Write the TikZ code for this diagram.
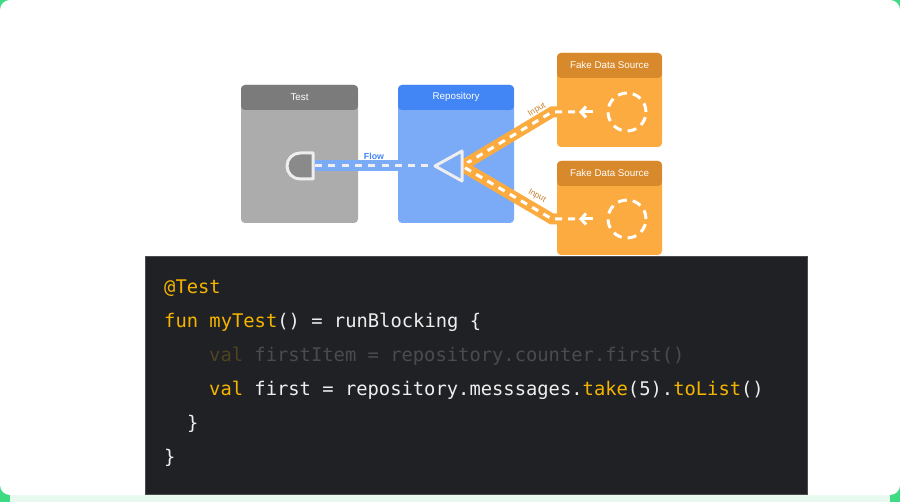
\documentclass[tikz,border=0pt]{standalone}
\usepackage{fontspec}
\setmainfont{Liberation Sans}
\setmonofont{DejaVu Sans Mono}
\usetikzlibrary{arrows.meta, positioning}

\definecolor{edgegreen}{HTML}{3DDC84}
\definecolor{mint}{HTML}{E8FAF0}
\definecolor{testhead}{HTML}{7B7B7B}
\definecolor{testbody}{HTML}{ACACAC}
\definecolor{sinkfill}{HTML}{8A8A8A}
\definecolor{repohead}{HTML}{4285F4}
\definecolor{repobody}{HTML}{7BAAF7}
\definecolor{fakehead}{HTML}{D8892B}
\definecolor{fakebody}{HTML}{FBAB40}
\definecolor{inputlabel}{HTML}{C98431}
\definecolor{portline}{HTML}{EEEEEE}
\definecolor{codebg}{HTML}{202124}
\definecolor{codeorange}{HTML}{F5B400}
\definecolor{codewhite}{HTML}{EEEEEE}
\definecolor{dimorange}{HTML}{4E4322}
\definecolor{dimgrey}{HTML}{4A4B4D}

\tikzset{
  panel/.style 2 args={rounded corners=4, fill=#1, inner sep=0,
    path picture={\fill[#2] (path picture bounding box.north west)
      rectangle ([yshift=-25]path picture bounding box.north east);}},
  title/.style={text=white, font=\fontsize{9.8}{11}\selectfont, inner sep=0},
  port/.style={draw=portline, line width=3, line join=round},
  bband/.style={draw=repobody, line width=11,
    postaction={draw=portline, line width=3, dash pattern=on 7 off 6.3, shorten <=2}},
  oband/.style={draw=fakebody, line width=11,
    postaction={draw=white, line width=3, dash pattern=on 7 off 6}},
  ring/.style={circle, draw=white, line width=3, minimum size=38, inner sep=0,
    dash pattern=on 9 off 6},
  feed/.style={->, draw=white, line width=3, shorten <=14},
  inlabel/.style={text=inputlabel, font=\fontsize{8.5}{9}\selectfont, inner sep=0},
  code/.style={anchor=base west, inner sep=0, text=codewhite,
    font=\ttfamily\fontsize{18.8}{22}\selectfont}
}

\begin{document}
\begin{tikzpicture}[x=1pt, y=-1pt, >={Straight Barb[length=5pt, width=11pt]}]
\useasboundingbox (0,0) rectangle (900,502);

% frame
\fill[edgegreen] (0,0) rectangle (900,502);
\fill[mint] (10,494) rectangle (890,502);
\fill[white, rounded corners=10] (0,0) rectangle (900,495);

% boxes
\node[panel={testbody}{testhead}, minimum width=117, minimum height=138] (test) at (299.5,154) {};
\node[panel={repobody}{repohead}, minimum width=116, minimum height=138] (repo) at (456,154) {};
\node[panel={fakebody}{fakehead}, minimum width=105, minimum height=94] (fake1) at (609.5,100) {};
\node[panel={fakebody}{fakehead}, minimum width=105, minimum height=94] (fake2) at (609.5,208) {};

\node[title] (testtitle) at ([yshift=-12.5]test.north) {Test};
\node[title] (repotitle) at ([yshift=-12.5]repo.north) {Repository};
\node[title] (fake1title) at ([yshift=-12]fake1.north) {Fake Data Source};
\node[title] (fake2title) at ([yshift=-12]fake2.north) {Fake Data Source};

% ports
\coordinate (sink) at (313,166);
\coordinate (mergein) at (435,166);
\coordinate (mergeout) at (462,166);
\coordinate (in1) at (579,112);
\coordinate (in2) at (579,219);
\coordinate (bend1) at (552,112);
\coordinate (bend2) at (552,219);

% Flow: repository to test
\draw[bband] (sink) -- (mergein)
  node[midway, above=1pt, inner sep=0, text=repohead,
       font=\bfseries\fontsize{8.8}{10}\selectfont] (flowlabel) {Flow};

% Inputs: fake sources to repository
\draw[oband] ([xshift=-4]in1) -- (bend1) -- (mergeout);
\draw[oband] ([xshift=-4]in2) -- (bend2) -- (mergeout);
\node[inlabel, rotate=31] (input1) at (537,110) {Input};
\node[inlabel, rotate=-30] (input2) at (537,196) {Input};

\draw[port, fill=sinkfill] (sink) ++(0,-13) -- ++(-13,0)
  arc[start angle=270, end angle=90, radius=13] -- ++(13,0) -- cycle;
\draw[port, fill=repobody] (mergein) -- (462,151) -- (462,181) -- cycle;

\node[ring] (src1) at (627,112) {};
\node[ring] (src2) at (627,219) {};
\draw[feed] (src1) -- (in1);
\draw[feed] (src2) -- (in2);

% code
\node[fill=codebg, draw=black!70, line width=0.6, minimum width=662, minimum height=238,
      inner sep=0] (codebox) at (476,375) {};
\node[code] (l1) at (164,294) {\textcolor{codeorange}{@Test}};
\node[code] (l2) at (164,328) {\textcolor{codeorange}{fun myTest}() = runBlocking \{};
\node[code] (l3) at (209,362) {\textcolor{dimorange}{val} \textcolor{dimgrey}{firstItem = repository.counter.first()}};
\node[code] (l4) at (209,396) {\textcolor{codeorange}{val} first = repository.messsages.\textcolor{codeorange}{take}(5).\textcolor{codeorange}{toList}()};
\node[code] (l5) at (187,430) {\}};
\node[code] (l6) at (164,464) {\}};

\end{tikzpicture}
\end{document}
